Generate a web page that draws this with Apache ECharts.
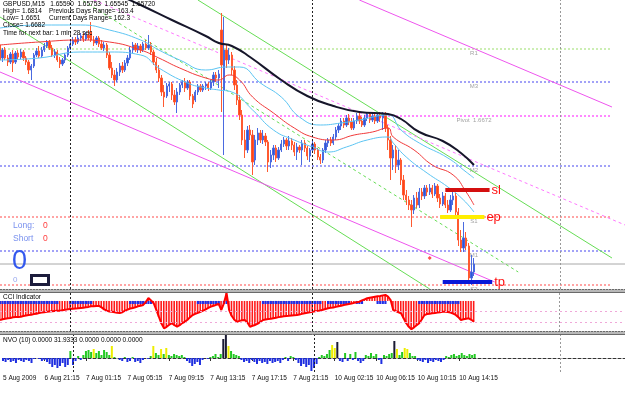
<!DOCTYPE html>
<html>
<head>
<meta charset="utf-8">
<title>GBPUSD,M15</title>
<script src="https://cdn.jsdelivr.net/npm/echarts/dist/echarts.min.js"></script>
<style>
  html, body { margin: 0; padding: 0; background: #fff; }
  #chart { width: 625px; height: 398px; }
</style>
</head>
<body>
<div id="chart"></div>
<script>
// time scale: one slot per M15 bar, a label every 16 bars
const tickLabels = ['5 Aug 2009', '6 Aug 21:15', '7 Aug 01:15', '7 Aug 05:15', '7 Aug 09:15', '7 Aug 13:15',
  '7 Aug 17:15', '7 Aug 21:15', '10 Aug 02:15', '10 Aug 06:15', '10 Aug 10:15', '10 Aug 14:15']
const slotCount = 241
const categories = Array.from({ length: slotCount }, (_, i) => String(i))

// [open, close, low, high]
const candles = [
  [1.6783, 1.6768, 1.6765, 1.6788], [1.6770, 1.6778, 1.6766, 1.6780], [1.6778, 1.6770, 1.6768, 1.6781], [1.6770, 1.6766, 1.6762, 1.6773],
  [1.6766, 1.6774, 1.6764, 1.6776], [1.6774, 1.6765, 1.6756, 1.6778], [1.6766, 1.6775, 1.6764, 1.6777], [1.6775, 1.6771, 1.6768, 1.6778],
  [1.6771, 1.6776, 1.6769, 1.6779], [1.6776, 1.6770, 1.6767, 1.6778], [1.6770, 1.6766, 1.6763, 1.6772], [1.6766, 1.6758, 1.6754, 1.6768],
  [1.6758, 1.6762, 1.6748, 1.6764], [1.6762, 1.6773, 1.6760, 1.6775], [1.6773, 1.6777, 1.6771, 1.6780], [1.6777, 1.6772, 1.6770, 1.6782],
  [1.6772, 1.6778, 1.6770, 1.6781], [1.6778, 1.6782, 1.6776, 1.6785], [1.6782, 1.6786, 1.6780, 1.6788], [1.6786, 1.6780, 1.6778, 1.6788],
  [1.6780, 1.6773, 1.6771, 1.6783], [1.6773, 1.6776, 1.6770, 1.6779], [1.6776, 1.6768, 1.6766, 1.6778], [1.6768, 1.6764, 1.6760, 1.6771],
  [1.6764, 1.6768, 1.6762, 1.6770], [1.6768, 1.6773, 1.6765, 1.6775], [1.6773, 1.6780, 1.6771, 1.6782], [1.6780, 1.6784, 1.6778, 1.6787],
  [1.6784, 1.6788, 1.6782, 1.6791], [1.6788, 1.6786, 1.6783, 1.6791], [1.6786, 1.6790, 1.6784, 1.6793], [1.6790, 1.6792, 1.6787, 1.6795],
  [1.6792, 1.6789, 1.6786, 1.6795], [1.6789, 1.6793, 1.6787, 1.6796], [1.6793, 1.6790, 1.6788, 1.6798], [1.6796, 1.6788, 1.6786, 1.6806],
  [1.6788, 1.6785, 1.6782, 1.6792], [1.6785, 1.6790, 1.6783, 1.6792], [1.6790, 1.6784, 1.6781, 1.6792], [1.6784, 1.6780, 1.6778, 1.6788],
  [1.6780, 1.6783, 1.6777, 1.6786], [1.6783, 1.6773, 1.6770, 1.6785], [1.6773, 1.6760, 1.6758, 1.6776], [1.6760, 1.6753, 1.6750, 1.6766],
  [1.6753, 1.6748, 1.6742, 1.6758], [1.6748, 1.6756, 1.6746, 1.6760], [1.6756, 1.6762, 1.6752, 1.6765], [1.6762, 1.6758, 1.6755, 1.6766],
  [1.6758, 1.6765, 1.6756, 1.6768], [1.6765, 1.6770, 1.6762, 1.6773], [1.6770, 1.6778, 1.6768, 1.6781], [1.6778, 1.6783, 1.6775, 1.6786],
  [1.6783, 1.6778, 1.6776, 1.6785], [1.6778, 1.6782, 1.6775, 1.6785], [1.6782, 1.6778, 1.6775, 1.6784], [1.6778, 1.6784, 1.6776, 1.6786],
  [1.6784, 1.6780, 1.6778, 1.6788], [1.6780, 1.6783, 1.6778, 1.6793], [1.6783, 1.6776, 1.6773, 1.6786], [1.6776, 1.6766, 1.6763, 1.6778],
  [1.6766, 1.6758, 1.6755, 1.6770], [1.6758, 1.6750, 1.6746, 1.6763], [1.6750, 1.6736, 1.6732, 1.6753], [1.6736, 1.6731, 1.6721, 1.6743],
  [1.6732, 1.6742, 1.6730, 1.6745], [1.6742, 1.6744, 1.6736, 1.6746], [1.6744, 1.6733, 1.6728, 1.6746], [1.6733, 1.6726, 1.6723, 1.6738],
  [1.6726, 1.6736, 1.6715, 1.6740], [1.6736, 1.6743, 1.6733, 1.6745], [1.6743, 1.6746, 1.6740, 1.6748], [1.6746, 1.6740, 1.6736, 1.6750],
  [1.6740, 1.6746, 1.6738, 1.6748], [1.6746, 1.6732, 1.6728, 1.6748], [1.6732, 1.6724, 1.6720, 1.6734], [1.6728, 1.6736, 1.6726, 1.6738],
  [1.6736, 1.6742, 1.6733, 1.6744], [1.6742, 1.6738, 1.6736, 1.6744], [1.6738, 1.6742, 1.6736, 1.6744], [1.6742, 1.6744, 1.6738, 1.6746],
  [1.6744, 1.6740, 1.6737, 1.6746], [1.6740, 1.6746, 1.6738, 1.6748], [1.6746, 1.6753, 1.6742, 1.6756], [1.6753, 1.6750, 1.6746, 1.6756],
  [1.6750, 1.6754, 1.6740, 1.6758], [1.6798, 1.6763, 1.6716, 1.6815], [1.6738, 1.6778, 1.6673, 1.6811], [1.6778, 1.6768, 1.6760, 1.6783],
  [1.6768, 1.6773, 1.6764, 1.6780], [1.6773, 1.6758, 1.6753, 1.6776], [1.6758, 1.6743, 1.6738, 1.6762], [1.6743, 1.6728, 1.6723, 1.6748],
  [1.6728, 1.6713, 1.6708, 1.6733], [1.6713, 1.6688, 1.6683, 1.6718], [1.6688, 1.6678, 1.6670, 1.6698], [1.6678, 1.6698, 1.6675, 1.6702],
  [1.6698, 1.6693, 1.6688, 1.6703], [1.6693, 1.6666, 1.6653, 1.6698], [1.6668, 1.6688, 1.6663, 1.6693], [1.6688, 1.6695, 1.6683, 1.6700],
  [1.6695, 1.6688, 1.6685, 1.6698], [1.6688, 1.6692, 1.6684, 1.6698], [1.6692, 1.6686, 1.6682, 1.6695], [1.6686, 1.6666, 1.6656, 1.6688],
  [1.6666, 1.6673, 1.6660, 1.6678], [1.6673, 1.6680, 1.6668, 1.6683], [1.6680, 1.6670, 1.6666, 1.6683], [1.6670, 1.6678, 1.6668, 1.6681],
  [1.6678, 1.6684, 1.6676, 1.6688], [1.6684, 1.6688, 1.6681, 1.6691], [1.6688, 1.6682, 1.6678, 1.6690], [1.6682, 1.6687, 1.6678, 1.6692],
  [1.6687, 1.6683, 1.6678, 1.6690], [1.6683, 1.6676, 1.6672, 1.6686], [1.6676, 1.6681, 1.6668, 1.6685], [1.6681, 1.6678, 1.6675, 1.6683],
  [1.6678, 1.6685, 1.6663, 1.6688], [1.6685, 1.6680, 1.6676, 1.6688], [1.6680, 1.6672, 1.6668, 1.6682], [1.6672, 1.6678, 1.6666, 1.6680],
  [1.6678, 1.6684, 1.6675, 1.6687], [1.6684, 1.6678, 1.6674, 1.6686], [1.6678, 1.6671, 1.6668, 1.6680], [1.6671, 1.6668, 1.6664, 1.6674],
  [1.6668, 1.6678, 1.6665, 1.6680], [1.6678, 1.6685, 1.6675, 1.6688], [1.6685, 1.6688, 1.6681, 1.6690], [1.6688, 1.6685, 1.6682, 1.6691],
  [1.6685, 1.6691, 1.6683, 1.6694], [1.6691, 1.6698, 1.6688, 1.6701], [1.6698, 1.6702, 1.6695, 1.6705], [1.6702, 1.6707, 1.6698, 1.6710],
  [1.6707, 1.6703, 1.6700, 1.6710], [1.6703, 1.6710, 1.6701, 1.6713], [1.6710, 1.6706, 1.6703, 1.6714], [1.6706, 1.6700, 1.6698, 1.6710],
  [1.6700, 1.6707, 1.6698, 1.6710], [1.6707, 1.6712, 1.6704, 1.6715], [1.6712, 1.6707, 1.6704, 1.6715], [1.6707, 1.6703, 1.6701, 1.6711],
  [1.6703, 1.6710, 1.6701, 1.6713], [1.6710, 1.6714, 1.6707, 1.6716], [1.6714, 1.6708, 1.6705, 1.6716], [1.6708, 1.6712, 1.6706, 1.6715],
  [1.6712, 1.6707, 1.6704, 1.6715], [1.6707, 1.6713, 1.6705, 1.6715], [1.6713, 1.6710, 1.6706, 1.6716], [1.6710, 1.6714, 1.6698, 1.6716],
  [1.6714, 1.6700, 1.6696, 1.6716], [1.6700, 1.6688, 1.6678, 1.6703], [1.6688, 1.6670, 1.6648, 1.6692], [1.6670, 1.6678, 1.6658, 1.6683],
  [1.6678, 1.6663, 1.6655, 1.6683], [1.6663, 1.6668, 1.6658, 1.6678], [1.6668, 1.6648, 1.6643, 1.6670], [1.6648, 1.6633, 1.6628, 1.6653],
  [1.6633, 1.6628, 1.6623, 1.6638], [1.6628, 1.6623, 1.6618, 1.6632], [1.6623, 1.6618, 1.6601, 1.6628], [1.6618, 1.6630, 1.6614, 1.6633],
  [1.6630, 1.6623, 1.6620, 1.6636], [1.6623, 1.6636, 1.6620, 1.6640], [1.6636, 1.6632, 1.6628, 1.6640], [1.6632, 1.6640, 1.6629, 1.6643],
  [1.6640, 1.6636, 1.6632, 1.6643], [1.6636, 1.6640, 1.6633, 1.6644], [1.6640, 1.6634, 1.6630, 1.6643], [1.6634, 1.6642, 1.6632, 1.6645],
  [1.6642, 1.6630, 1.6626, 1.6644], [1.6630, 1.6624, 1.6620, 1.6634], [1.6624, 1.6632, 1.6622, 1.6636], [1.6632, 1.6623, 1.6620, 1.6635],
  [1.6623, 1.6618, 1.6615, 1.6628], [1.6618, 1.6628, 1.6616, 1.6633], [1.6628, 1.6632, 1.6623, 1.6638], [1.6632, 1.6616, 1.6613, 1.6635],
  [1.6616, 1.6588, 1.6582, 1.6620], [1.6588, 1.6580, 1.6576, 1.6598], [1.6580, 1.6590, 1.6576, 1.6606], [1.6590, 1.6582, 1.6578, 1.6596],
  [1.6582, 1.6550, 1.6546, 1.6585], [1.6550, 1.6556, 1.6543, 1.6573], [1.6556, 1.6564, 1.6552, 1.6570]
]

// moving averages, [bar, price]
const maBlack = [[48, 1.6830], [54, 1.6823], [66, 1.6808], [79, 1.6792], [84, 1.6785], [89, 1.6782], [96, 1.6771], [108, 1.6748],
  [118, 1.6732], [128, 1.6722], [138, 1.6716], [149, 1.6714], [154, 1.6709], [161, 1.6696], [170, 1.6687], [177, 1.6675], [182, 1.6663]]
const maRed = [[0, 1.6783], [15, 1.6786], [31, 1.6788], [42, 1.6786], [54, 1.6778], [61, 1.6770], [69, 1.6760], [79, 1.6750],
  [84, 1.6748], [88, 1.6753], [92, 1.6748], [97, 1.6731], [105, 1.6715], [113, 1.6700], [120, 1.6691], [128, 1.6688], [136, 1.6693],
  [143, 1.6696], [149, 1.6700], [151, 1.6691], [159, 1.6678], [166, 1.6663], [174, 1.6653], [179, 1.6636], [182, 1.6623]]
const maBlueUpper = [[0, 1.6800], [15, 1.6803], [31, 1.6803], [42, 1.6798], [54, 1.6788], [61, 1.6778], [69, 1.6768], [79, 1.6758],
  [87, 1.6761], [92, 1.6761], [100, 1.6745], [108, 1.6731], [115, 1.6711], [123, 1.6703], [131, 1.6705], [138, 1.6708], [149, 1.6713],
  [154, 1.6698], [161, 1.6685], [172, 1.6670], [179, 1.6656], [182, 1.6650]]
const maBlueLower = [[0, 1.6768], [15, 1.6770], [31, 1.6776], [42, 1.6776], [54, 1.6773], [61, 1.6760], [72, 1.6745], [79, 1.6740],
  [84, 1.6738], [89, 1.6736], [97, 1.6718], [105, 1.6698], [113, 1.6688], [120, 1.6681], [126, 1.6676], [133, 1.6681], [141, 1.6688],
  [149, 1.6691], [151, 1.6685], [156, 1.6671], [164, 1.6655], [172, 1.6641], [178, 1.6628], [182, 1.6616]]

// channel lines, [[bar, price], [bar, price]]
const greenUpper = [[76, 1.6828], [235, 1.6570]]
const greenLower = [[0, 1.6811], [165, 1.6539]]
const greenMid = [[32, 1.6827], [199, 1.6556]]
const pinkUpper = [[138, 1.6828], [235, 1.6721]]
const pinkLower = [[0, 1.6756], [190, 1.6546]]
const pinkMid = [[36, 1.6828], [240, 1.6603]]

// daily pivot levels
const pivotNames = ['R1', 'M3', 'Pivot  1.6672', 'M2', 'S1', 'M1', 'S2']
const pivotValues = [1.6779, 1.6746, 1.6712, 1.6662, 1.6611, 1.6577, 1.6543]
const bidPrice = 1.6564

// trade levels
const tradeNames = ['sl', 'ep', 'tp']
const tradeValues = [1.6638, 1.6611, 1.6546]
const tradeSpans = [[171, 188], [169, 186], [170, 189]]
const arrowMark = [[165, 1.6570]]

const daySeparators = [27, 120]
const timeLine = 215

// CCI indicator
const cci = [-177, -170, -165, -160, -158, -152, -150, -148, -146, -140, -135, -130, -128, -122, -118, -112, -108, -105, -100, -98,
  -96, -94, -92, -90, -86, -82, -78, -75, -72, -70, -68, -65, -62, -58, -55, -50, -48, -47, -46, -60,
  -78, -90, -98, -100, -105, -110, -112, -105, -90, -80, -70, -65, -58, -50, -45, -37, -10, 28, 5, -21,
  -80, -146, -210, -254, -240, -220, -207, -225, -239, -225, -205, -193, -175, -150, -130, -120, -110, -100, -90, -78,
  -65, -53, -45, -35, -28, -84, -20, 72, -84, -140, -175, -193, -185, -180, -177, -200, -239, -230, -223, -210,
  -195, -177, -172, -168, -165, -160, -155, -150, -146, -143, -140, -138, -135, -132, -130, -125, -120, -115, -110, -105,
  -100, -96, -92, -88, -82, -75, -68, -64, -60, -55, -50, -45, -37, -33, -28, -24, -18, -12, -7, 5,
  15, 25, 30, 35, 40, 44, 47, 52, 56, 40, 9, -84, -95, -105, -115, -160, -207, -240, -263, -245,
  -225, -207, -170, -130, -122, -118, -115, -112, -108, -104, -100, -100, -102, -108, -118, -130, -150, -177, -170, -165,
  -161, -175, -193]
const cciBlueRuns = [[0, 22], [27, 35], [50, 58], [76, 84], [86, 87], [101, 123], [126, 134], [137, 139], [145, 148], [161, 174], [175, 176]]
const cciLevels = [-100, -200]

// NVO (10)
const nvo = [-3, -4, -2, -4, -3, -5, -2, -3, -4, -2, -3, -5, -1, 0, -1, -3, -2, -4, -6, -9,
  -7, -10, -8, -5, -9, -7, 7, -7, -3, 2, -2, 3, 7, 8, 6, 9, 5, 7, 3, 8,
  6, 3, 12, 1, 0, -2, -3, 1, -4, -3, 1, -4, -3, -5, -2, 0, -1, 2, 12, 5,
  3, 9, 4, 10, 3, 2, 4, 3, 2, 3, 1, -3, -5, -8, -6, -4, -7, -2, 0, -1,
  1, 2, 4, 1, 4, 19, 23, 12, 7, 4, 3, 2, -2, -4, -3, -5, -2, -4, -6, -3,
  -5, -4, -6, -3, -5, -4, -3, -5, -2, 1, -3, 2, 1, -2, -5, -8, -6, -9, -7, -13,
  -10, -6, 1, 3, 2, 4, 8, 13, 10, 16, -3, -4, 5, -3, 4, -2, 6, -3, -5, -3,
  3, 2, 5, 2, 4, -2, -6, 3, 2, 4, 5, 17, 9, 3, 6, 10, 9, 5, 2, 2,
  -2, -3, -4, -2, -5, -3, -4, -2, -3, -4, -2, 2, 1, 3, 4, 2, 3, 5, 3, 2,
  4, 3, 4]

const FONT = 'Liberation Sans'
const chart = echarts.init(document.getElementById('chart'))

const inRuns = i => cciBlueRuns.some(r => i >= r[0] && i <= r[1])
const cciBlue = cci.map((v, i) => (inRuns(i) ? -28 : '-'))

const mainLine = (data, color, width, type, z, smooth) => ({
  type: 'line',
  xAxisIndex: 0,
  yAxisIndex: 0,
  data,
  symbol: 'none',
  smooth: !!smooth,
  silent: true,
  z,
  lineStyle: { color, width, type }
})

const pivotColors = ['#9ade6a', '#4646f0', '#ff88ff', '#4646f0', '#ff4a4a', '#4646f0', '#ff4a4a']
const tradeColors = ['#d40f0f', '#ffee00', '#0a18d8']

const series = []

// pivot levels
pivotValues.forEach((v, k) => {
  series.push(mainLine([[0, v], [235, v]], pivotColors[k], k === 2 ? 2 : 1, [2, 2], 1))
})
series.push({
  type: 'scatter',
  xAxisIndex: 0,
  yAxisIndex: 0,
  symbolSize: 0,
  silent: true,
  z: 1,
  data: pivotValues.map((v, k) => ({ name: pivotNames[k], value: [182, v] })),
  label: { show: true, position: 'bottom', distance: 1, formatter: '{b}', color: '#8a8a8a', fontSize: 6, fontFamily: FONT }
})
series.push(mainLine([[0, bidPrice], [240, bidPrice]], '#a8a8a8', 1, 'solid', 1))

// channels
series.push(mainLine(greenUpper, '#66dd55', 1, 'solid', 2))
series.push(mainLine(greenLower, '#66dd55', 1, 'solid', 2))
series.push(mainLine(greenMid, '#66dd55', 1, [3, 3], 2))
series.push(mainLine(pinkUpper, '#ee55ee', 1, 'solid', 2))
series.push(mainLine(pinkLower, '#ee55ee', 1, 'solid', 2))
series.push(mainLine(pinkMid, '#ff77ff', 1, [3, 3], 2))

// price candles
series.push({
  type: 'candlestick',
  xAxisIndex: 0,
  yAxisIndex: 0,
  data: candles,
  barWidth: 1.8,
  silent: true,
  z: 3,
  itemStyle: { color: '#2f55d6', color0: '#ff4418', borderColor: '#4a6ae0', borderColor0: '#ff5a30', borderWidth: 1 },
  markLine: {
    symbol: 'none',
    silent: true,
    label: { show: false },
    data: [
      { xAxis: daySeparators[0], lineStyle: { color: '#222', type: [2, 2], width: 1 } },
      { xAxis: daySeparators[1], lineStyle: { color: '#222', type: [2, 2], width: 1 } },
      { xAxis: timeLine, lineStyle: { color: '#999', type: [2, 2], width: 1 } }
    ]
  }
})

// moving averages
series.push(mainLine(maBlueUpper, '#5cc4f2', 1, 'solid', 4, true))
series.push(mainLine(maBlueLower, '#5cc4f2', 1, 'solid', 4, true))
series.push(mainLine(maRed, '#f03a3a', 1, 'solid', 4, true))
series.push(mainLine(maBlack, '#16162a', 2, 'solid', 5, true))

// trade levels
tradeValues.forEach((v, k) => {
  const s = mainLine([[tradeSpans[k][0], v], [tradeSpans[k][1], v]], tradeColors[k], 4, 'solid', 6)
  s.endLabel = { show: true, formatter: tradeNames[k], color: '#ff1010', fontSize: 13, fontFamily: FONT, distance: 2 }
  series.push(s)
})
series.push({
  type: 'scatter',
  xAxisIndex: 0,
  yAxisIndex: 0,
  data: arrowMark,
  symbol: 'diamond',
  symbolSize: 4,
  silent: true,
  z: 6,
  itemStyle: { color: '#ff2020' }
})

// CCI panel
series.push({
  type: 'bar',
  xAxisIndex: 1,
  yAxisIndex: 1,
  data: cci,
  barWidth: 1.6,
  barGap: '-100%',
  silent: true,
  itemStyle: { color: '#ff1a1a' },
  markLine: {
    symbol: 'none',
    silent: true,
    label: { show: false },
    data: [
      { yAxis: cciLevels[0], lineStyle: { color: '#f0a8d8', type: [2, 3], width: 1 } },
      { yAxis: cciLevels[1], lineStyle: { color: '#f0a8d8', type: [2, 3], width: 1 } },
      { xAxis: daySeparators[0], lineStyle: { color: '#222', type: [2, 2], width: 1 } },
      { xAxis: daySeparators[1], lineStyle: { color: '#222', type: [2, 2], width: 1 } },
      { xAxis: timeLine, lineStyle: { color: '#999', type: [2, 2], width: 1 } }
    ]
  }
})
series.push({
  type: 'bar',
  xAxisIndex: 1,
  yAxisIndex: 1,
  data: cciBlue,
  barWidth: 2.2,
  barGap: '-100%',
  silent: true,
  z: 3,
  itemStyle: { color: '#1f2fe8' }
})
series.push({
  type: 'line',
  xAxisIndex: 1,
  yAxisIndex: 1,
  data: cci,
  symbol: 'none',
  silent: true,
  z: 4,
  lineStyle: { color: '#ff0000', width: 2 }
})

// NVO panel
series.push({
  type: 'bar',
  xAxisIndex: 2,
  yAxisIndex: 2,
  data: nvo,
  barWidth: 2,
  silent: true,
  itemStyle: {
    color: p => (p.value < 0 ? '#1f2fe0' : p.value >= 14 ? '#1a1a33' : p.value >= 9 ? '#eeee00' : '#22c822')
  },
  markLine: {
    symbol: 'none',
    silent: true,
    label: { show: false },
    data: [
      { xAxis: daySeparators[0], lineStyle: { color: '#222', type: [2, 2], width: 1 } },
      { xAxis: daySeparators[1], lineStyle: { color: '#222', type: [2, 2], width: 1 } },
      { xAxis: timeLine, lineStyle: { color: '#999', type: [2, 2], width: 1 } }
    ]
  }
})

const hiddenX = gridIndex => ({
  gridIndex, type: 'category', data: categories, boundaryGap: false, show: false
})
const hiddenY = (gridIndex, min, max) => ({
  gridIndex, type: 'value', min, max, show: false, splitLine: { show: false }
})
const showLabel = i => i % 16 === 0 && i / 16 < tickLabels.length

const txt = (x, y, text, size, color) => ({
  type: 'text', x, y, silent: true, z: 100,
  style: { text, fill: color, font: size + 'px "' + FONT + '"' }
})
const separator = y => ([
  { type: 'rect', silent: true, z: 90, shape: { x: 0, y, width: 625, height: 3 }, style: { fill: '#b8b8b8' } },
  { type: 'line', silent: true, z: 91, shape: { x1: 0, y1: y + 0.5, x2: 625, y2: y + 0.5 }, style: { stroke: '#6a6a6a', lineWidth: 1, lineDash: [2, 1] } },
  { type: 'line', silent: true, z: 91, shape: { x1: 0, y1: y + 3.5, x2: 625, y2: y + 3.5 }, style: { stroke: '#6a6a6a', lineWidth: 1 } }
])

chart.setOption({
  animation: false,
  backgroundColor: '#ffffff',
  textStyle: { fontFamily: FONT },
  grid: [
    { left: 0, right: 0, top: 0, height: 289 },
    { left: 0, right: 0, top: 293, height: 38 },
    { left: 0, right: 0, top: 334, height: 38 }
  ],
  xAxis: [
    hiddenX(0),
    hiddenX(1),
    {
      gridIndex: 2,
      type: 'category',
      data: categories,
      boundaryGap: false,
      axisLine: { lineStyle: { color: '#333', width: 1, type: [3, 2] } },
      axisTick: { show: true, length: 3, interval: showLabel, lineStyle: { color: '#333' } },
      axisLabel: {
        interval: showLabel,
        formatter: (v, i) => tickLabels[i / 16],
        align: 'left',
        margin: 3,
        color: '#111',
        fontSize: 6.5,
        fontFamily: FONT
      },
      splitLine: { show: false }
    }
  ],
  yAxis: [
    hiddenY(0, 1.6539, 1.6828),
    hiddenY(1, -279, 74),
    hiddenY(2, -14, 24)
  ],
  series,
  graphic: [
    txt(3, 1, 'GBPUSD,M15   1.65590  1.65753  1.65545  1.65720', 6.5, '#000'),
    txt(3, 8, 'High= 1.6814', 6.5, '#000'),
    txt(49, 8, 'Previous Days Range= 163.4', 6.5, '#000'),
    txt(3, 15, 'Low= 1.6651', 6.5, '#000'),
    txt(49, 15, 'Current Days Range= 162.3', 6.5, '#000'),
    txt(3, 22, 'Close= 1.6682', 6.5, '#000'),
    txt(3, 30, 'Time for next bar: 1 min 28 sec', 6.5, '#000'),
    txt(13, 221, 'Long:', 8.5, '#7890ee'),
    txt(43, 221, '0', 8.5, '#ff3c3c'),
    txt(13, 234, 'Short', 8.5, '#7890ee'),
    txt(43, 234, '0', 8.5, '#ff3c3c'),
    txt(12, 248, '0', 27, '#3358ee'),
    txt(13, 276, '0', 8, '#98a8ee'),
    {
      type: 'rect', silent: true, z: 100,
      shape: { x: 31.5, y: 275.5, width: 17, height: 9 },
      style: { fill: '#ffffff', stroke: '#1c1c3c', lineWidth: 3 }
    },
    txt(3, 294, 'CCI Indicator', 6.5, '#000'),
    txt(3, 337, 'NVO (10) 0.0000 31.9333 0.0000 0.0000 0.0000', 6.5, '#000'),
    ...separator(289),
    ...separator(331)
  ]
})
</script>
</body>
</html>
